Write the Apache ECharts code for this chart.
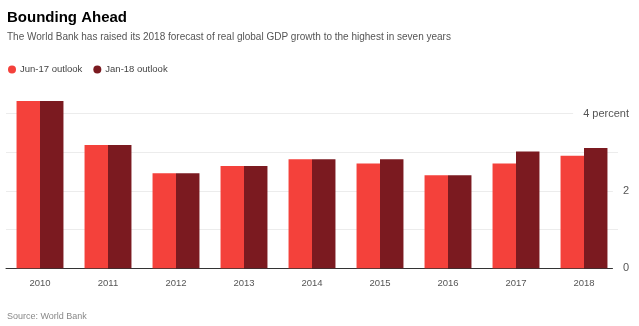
<!DOCTYPE html>
<html><head><meta charset="utf-8">
<script src="https://cdn.jsdelivr.net/npm/echarts@6/dist/echarts.min.js"></script>
<style>html,body{margin:0;padding:0;background:#fff}#c{width:639px;height:326px}</style>
</head><body><div id="c"></div>
<script>
const categories = ['2010','2011','2012','2013','2014','2015','2016','2017','2018'];
const jun17 = [4.33, 3.19, 2.46, 2.65, 2.82, 2.71, 2.41, 2.71, 2.91];
const jan18 = [4.33, 3.19, 2.46, 2.65, 2.82, 2.82, 2.41, 3.02, 3.11];
const yTickLabels = {0: '0', 2: '2', 4: '4 percent'};

const chart = echarts.init(document.getElementById('c'));
const font = '"Liberation Sans",Arial,sans-serif';
chart.setOption({
  animation: false,
  textStyle: {fontFamily: font},
  title: [
    {text: 'Bounding Ahead', left: 7, top: 10, padding: 0,
     textStyle: {fontFamily: font, fontSize: 15, fontWeight: 900, color: '#000'}},
    {text: 'The World Bank has raised its 2018 forecast of real global GDP growth to the highest in seven years', left: 7, top: 32, padding: 0,
     textStyle: {fontFamily: font, fontSize: 10, fontWeight: 'normal', color: '#555'}},
    {text: 'Source: World Bank', left: 7, top: 312, padding: 0,
     textStyle: {fontFamily: font, fontSize: 9, fontWeight: 'normal', color: '#888'}}
  ],
  legend: {
    left: 8, top: 64.5, padding: 0, icon: 'circle', itemWidth: 8, itemHeight: 8, itemGap: 11,
    textStyle: {fontFamily: font, fontSize: 9.5, color: '#444', padding: [0, 0, 0, -1]},
    data: ['Jun-17 outlook', 'Jan-18 outlook']
  },
  grid: {left: 6, right: 21, top: 94.4, bottom: 57.7, containLabel: false},
  xAxis: {
    type: 'category', data: categories,
    axisLine: {lineStyle: {color: '#333', width: 1}},
    axisTick: {alignWithLabel: true, length: 4, lineStyle: {color: '#333'}},
    axisLabel: {color: '#555', fontSize: 9.5, margin: 10, fontFamily: font}
  },
  yAxis: {
    type: 'value', position: 'right', min: 0, max: 4.5, interval: 1,
    axisLine: {show: false}, axisTick: {show: false},
    splitLine: {showMaxLine: false, lineStyle: {color: '#ececec', width: 1}},
    axisLabel: {
      inside: false, margin: 11, align: 'right', color: '#555', fontSize: 11,
      fontFamily: font, backgroundColor: '#fff', padding: [0, 0, 0, 10],
      formatter: v => (yTickLabels[v] !== undefined ? yTickLabels[v] : '')
    }
  },
  series: [
    {name: 'Jun-17 outlook', type: 'bar', data: jun17, barWidth: '34.5%', barGap: '0%',
     itemStyle: {color: '#f4413b'}},
    {name: 'Jan-18 outlook', type: 'bar', data: jan18, barWidth: '34.5%', barGap: '0%',
     itemStyle: {color: '#7b1a20'}}
  ]
});
</script></body></html>
